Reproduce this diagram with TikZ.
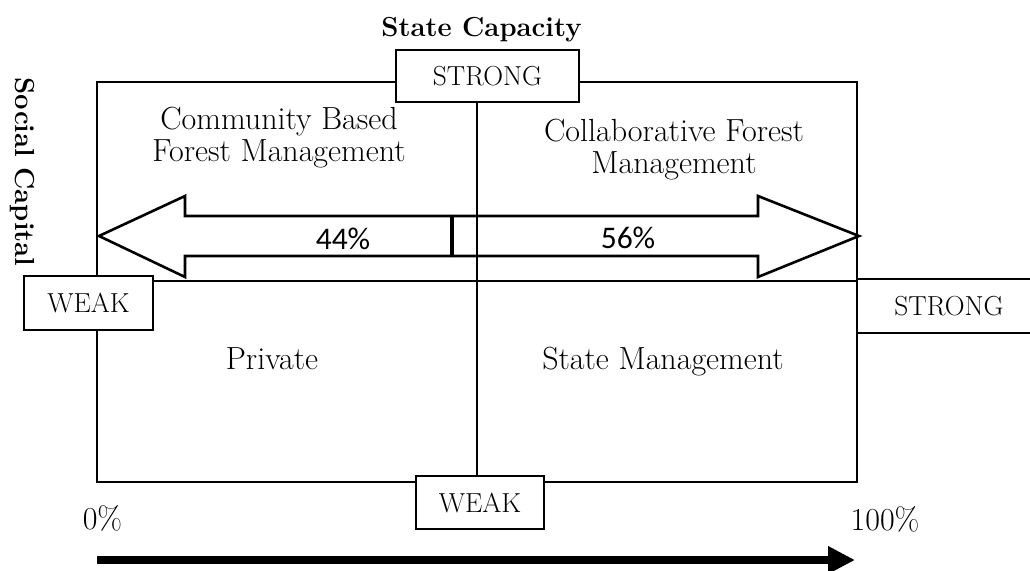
\documentclass[tikz,border=0pt]{standalone}
\usepackage{fontspec}
\newfontfamily\calibri{Carlito}
\usetikzlibrary{arrows.meta}
\tikzset{
  lbl/.style={font=\fontsize{32}{32}\selectfont, inner sep=0pt},
  capbox/.style={draw, fill=white, line width=1.6pt, inner sep=0pt, font=\fontsize{27.5}{30}\selectfont},
  pct/.style={font=\calibri\fontsize{31.5}{34}\selectfont, inner sep=0pt, anchor=base},
  ttl/.style={font=\bfseries\fontsize{27.5}{30}\selectfont, inner sep=0pt},
  frame/.style={line width=1.6pt},
  bigarrow/.style={line width=2.6pt, line join=miter},
  axisarrow/.style={line width=8pt, -{Triangle[length=27pt,width=26pt]}},
  axlbl/.style={font=\fontsize{32}{34}\selectfont, inner sep=0pt, anchor=base},
}
\begin{document}
\begin{tikzpicture}[x=1pt,y=-1pt]
\useasboundingbox (0,0) rectangle (1030,570);
\begin{scope}
\clip (0,0) rectangle (1030,570);
% outer frame and middle line
\draw[frame] (97,82) rectangle (857,482);
\coordinate (cx) at (477,0);
\coordinate (lm) at (97,281);
\coordinate (rm) at (857,281);
\draw[frame] (lm) -- (rm);
% double arrow
\coordinate (d1) at (452,216);
\coordinate (d2) at (452,256);
\coordinate (l1) at (185,216);
\coordinate (l2) at (185,196);
\coordinate (ltip) at (99,236);
\coordinate (l3) at (185,277);
\coordinate (l4) at (185,256);
\coordinate (r1) at (758,216);
\coordinate (r2) at (758,196);
\coordinate (rtip) at (859,236);
\coordinate (r3) at (758,277);
\coordinate (r4) at (758,256);
\draw[bigarrow] (d1) -- (l1) -- (l2) -- (ltip) -- (l3) -- (l4) -- (d2);
\draw[bigarrow] (d1) -- (r1) -- (r2) -- (rtip) -- (r3) -- (r4) -- (d2);
\draw[line width=4.5pt] (d1) -- (d2);
% boxes
\node[capbox, minimum width=183pt, minimum height=52pt] (topS) at (487.5,76) {STRONG};
\node[capbox, minimum width=129pt, minimum height=54pt] (leftW) at (88.5,303) {WEAK};
\node[capbox, minimum width=184pt, minimum height=54pt] (rightS) at (949,306) {STRONG};
\node[capbox, minimum width=128pt, minimum height=53pt] (botW) at (480,502.5) {WEAK};
\draw[frame] (topS.south -| cx) -- (botW.north -| cx);
% titles
\node[ttl, anchor=base] (sc) at (481.5,36) {State Capacity};
\node[ttl, rotate=-90] (soc) at (22,172) {Social Capital};
% quadrant labels
\node[lbl, align=center] (cbfm) at (279,137.5) {Community Based\\Forest Management};
\node[lbl, align=center] (cfm) at (674,150) {Collaborative Forest\\Management};
\node[lbl, anchor=base] (priv) at (272,369) {Private};
\node[lbl, anchor=base] (stm) at (663,369) {State Management};
\node[pct] (p44) at (343,249) {44\%};
\node[pct] (p56) at (628,248) {56\%};
% axis
\node[axlbl] (p0) at (102.5,529) {0\%};
\node[axlbl] (p100) at (885,530) {100\%};
\coordinate (bs) at (97,560);
\coordinate (be) at (855,560);
\draw[axisarrow] (bs) -- (be);
\end{scope}
\end{tikzpicture}
\end{document}
